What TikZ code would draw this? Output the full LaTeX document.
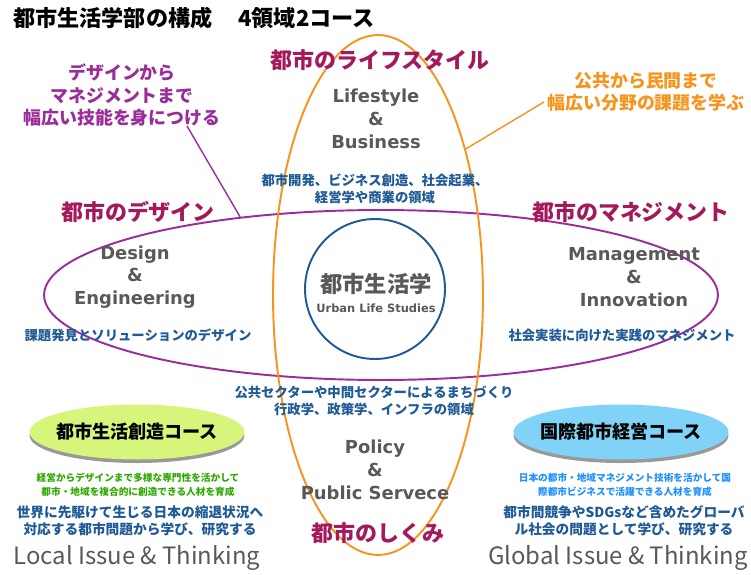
\documentclass[tikz,border=0pt]{standalone}
\usepackage{fontspec}
\setmainfont{Noto Sans CJK JP}
\newfontfamily\latinfont{DejaVu Sans}
\usetikzlibrary{shapes.geometric, shadows}

\definecolor{areared}{HTML}{A3195B}
\definecolor{textblue}{HTML}{1F5A96}
\definecolor{notepurple}{HTML}{9B2D9B}
\definecolor{noteorange}{HTML}{F7941D}
\definecolor{engrey}{HTML}{595959}
\definecolor{limefill}{HTML}{D6F57A}
\definecolor{skyfill}{HTML}{80D3F7}
\definecolor{coursegreen}{HTML}{2EA800}
\definecolor{courseblue}{HTML}{1E8FFF}
\definecolor{ringblue}{HTML}{1F5A96}

\begin{document}
\begin{tikzpicture}[x = 0.02cm, y = -0.02cm,
	area/.style = {text = areared, font = \bfseries\fontsize{12.5}{14}\selectfont},
	english/.style = {text = engrey, align = center, font = \latinfont\bfseries\fontsize{10.2}{13}\selectfont},
	field/.style = {text = textblue, align = center, font = \bfseries\fontsize{7.6}{9.6}\selectfont},
	course/.style = {ellipse, inner xsep = -0.1cm, inner ysep = 0pt, minimum width = 4.3cm, minimum height = 1.1cm,
		font = \bfseries\fontsize{10.3}{12}\selectfont,
		drop shadow = {opacity = 0.8, shadow xshift = 0pt, shadow yshift = -2pt}},
	aim/.style = {align = center, font = \bfseries\fontsize{5.5}{8}\selectfont},
	study/.style = {text = textblue, align = center, font = \bfseries\fontsize{7.8}{9.6}\selectfont},
	issue/.style = {text = engrey, font = \fontsize{13.6}{15}\selectfont},
	note/.style = {align = center, font = \bfseries\fontsize{10.2}{12.8}\selectfont}]

	\useasboundingbox (0, 0) rectangle (751, 575);

	% Title

	\node [anchor = west, font = \bfseries\fontsize{12.6}{14}\selectfont] (title) at (7, 18) {都市生活学部の構成　\,4領域2コース};

	% Ellipses

	\node [ellipse, draw = notepurple, line width = 1.1pt, minimum width = 13.48cm, minimum height = 3.4cm] (design) at (381, 295) {};
	\node [ellipse, draw = noteorange, line width = 1.1pt, minimum width = 4.2cm, minimum height = 10.4cm] (life) at (378, 295) {};
	\node [circle, draw = ringblue, line width = 1.1pt, minimum size = 2.8cm] (core) at (375, 289) {};

	% Centre

	\node [text = engrey, font = \bfseries\fontsize{12.7}{14}\selectfont] (corejp) at (376, 284) {都市生活学};
	\node [text = engrey, font = \latinfont\bfseries\fontsize{6.5}{7}\selectfont] (coreen) at (376, 308) {Urban Life Studies};

	% Four areas

	\node [area] (toplabel) at (380, 60) {都市のライフスタイル};
	\node [english] (topen) at (376, 119) {Lifestyle\\\&\\Business};
	\node [field] (topfield) at (375, 189) {都市開発、ビジネス創造、社会起業、\\経営学や商業の領域};

	\node [area] (leftlabel) at (138, 212) {都市のデザイン};
	\node [english] (leften) at (135, 277) {Design\\\&\\Engineering};
	\node [field] (leftfield) at (138, 335) {課題発見とソリューションのデザイン};

	\node [area] (rightlabel) at (631, 212) {都市のマネジメント};
	\node [english] (righten) at (634, 277) {Management\\\&\\Innovation};
	\node [field] (rightfield) at (622, 335) {社会実装に向けた実践のマネジメント};

	\node [field] (bottomfield) at (374, 401) {公共セクターや中間セクターによるまちづくり\\行政学、政策学、インフラの領域};
	\node [english] (bottomen) at (375, 470) {Policy\\\&\\Public Servece};
	\node [area] (bottomlabel) at (378, 533) {都市のしくみ};

	% Two courses

	\node [course, fill = limefill] (localcourse) at (137, 432) {都市生活創造コース};
	\node [aim, text = coursegreen] (localaim) at (138, 485) {経営からデザインまで多様な専門性を活かして\\都市・地域を複合的に創造できる人材を育成};
	\node [study] (localstudy) at (140, 521) {世界に先駆けて生じる日本の縮退状況へ\\対応する都市問題から学び、研究する};
	\node [issue] (localissue) at (137, 558) {Local Issue \& Thinking};

	\node [course, fill = skyfill] (globalcourse) at (621, 432) {国際都市経営コース};
	\node [aim, text = courseblue] (globalaim) at (625, 485) {日本の都市・地域マネジメント技術を活かして国\\際都市ビジネスで活躍できる人材を育成};
	\node [study] (globalstudy) at (624, 521) {都市間競争やSDGsなど含めたグローバ\\ル社会の問題として学び、研究する};
	\node [issue] (globalissue) at (618, 558) {Global Issue \& Thinking};

	% Notes

	\node [note, text = notepurple] (purplenote) at (122, 95) {デザインから\\マネジメントまで\\幅広い技能を身につける};
	\coordinate (purplefrom) at (187, 126);
	\draw [notepurple, thick] (purplefrom) -- (design.151);

	\node [note, text = noteorange] (orangenote) at (646, 92) {公共から民間まで\\幅広い分野の課題を学ぶ};
	\coordinate (orangefrom) at (544, 102);
	\draw [noteorange, thick] (orangefrom) -- (life.59);

\end{tikzpicture}
\end{document}
